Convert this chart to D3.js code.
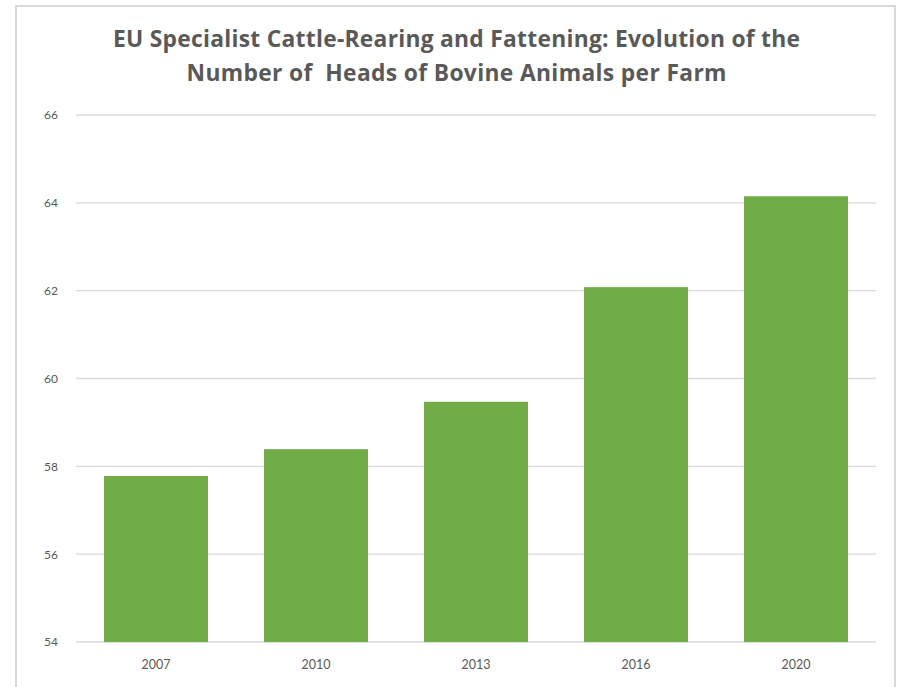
<!DOCTYPE html>
<html>
<head>
<meta charset="utf-8">
<script src="https://cdn.jsdelivr.net/npm/d3@7"></script>
<style>
  html, body { margin: 0; padding: 0; background: #ffffff; }
  svg { display: block; }
</style>
</head>
<body>
<svg id="chart" width="902" height="687"></svg>
<script>
// Average heads of bovine animals per specialist cattle-rearing and fattening farm (EU)
const years = ["2007", "2010", "2013", "2016", "2020"];
const headsPerFarm = [57.78, 58.39, 59.47, 62.08, 64.15];
const yTicks = [54, 56, 58, 60, 62, 64, 66];
const titleLines = [
  "EU Specialist Cattle-Rearing and Fattening: Evolution of the",
  "Number of  Heads of Bovine Animals per Farm"
];

const svg = d3.select("#chart");
const W = 902, H = 687;
const plot = { left: 76, right: 876, top: 115, bottom: 642 };
const textColor = "#595959";
const font = "Lato, 'Open Sans', 'Liberation Sans', sans-serif";
const titleFont = "'Open Sans', Lato, 'Liberation Sans', sans-serif";

// outer frame of the chart area
svg.append("rect")
  .attr("x", 16).attr("y", 6)
  .attr("width", 879).attr("height", H + 10)
  .attr("fill", "none")
  .attr("stroke", "#d9d9d9")
  .attr("stroke-width", 2);

const x = d3.scaleBand()
  .domain(years)
  .range([plot.left, plot.right])
  .paddingInner(0.35)
  .paddingOuter(0.175);

const y = d3.scaleLinear()
  .domain([54, 66])
  .range([plot.bottom, plot.top]);

// horizontal gridlines
svg.append("g")
  .selectAll("line")
  .data(yTicks)
  .join("line")
  .attr("x1", plot.left).attr("x2", plot.right)
  .attr("y1", d => y(d)).attr("y2", d => y(d))
  .attr("stroke", "#d9d9d9")
  .attr("stroke-width", 1.3);

// bars
svg.append("g")
  .selectAll("rect")
  .data(years.map((yr, i) => ({ yr, v: headsPerFarm[i] })))
  .join("rect")
  .attr("x", d => x(d.yr))
  .attr("width", x.bandwidth())
  .attr("y", d => y(d.v))
  .attr("height", d => y(54) - y(d.v))
  .attr("fill", "#70ad47");

// y axis labels
const yAxis = svg.append("g")
  .attr("transform", `translate(${plot.left - 18},0)`)
  .call(d3.axisLeft(y).tickValues(yTicks).tickSize(0).tickPadding(0).tickFormat(d3.format("d")));
yAxis.select(".domain").remove();
yAxis.selectAll("text")
  .attr("fill", textColor)
  .style("font-family", font)
  .style("font-size", "12px");

// x axis labels
const xAxis = svg.append("g")
  .attr("transform", `translate(0,${plot.bottom})`)
  .call(d3.axisBottom(x).tickSize(0).tickPadding(18));
xAxis.select(".domain").remove();
xAxis.selectAll("text")
  .attr("fill", textColor)
  .style("font-family", font)
  .style("font-size", "12.5px");

// title, two centred lines
const titleWidths = [687, 540];
svg.append("g")
  .selectAll("text")
  .data(titleLines)
  .join("text")
  .attr("x", 456.5)
  .attr("y", (d, i) => 47 + i * 34)
  .attr("text-anchor", "middle")
  .attr("fill", textColor)
  .attr("textLength", (d, i) => titleWidths[i])
  .attr("lengthAdjust", "spacing")
  .style("font-family", titleFont)
  .style("font-weight", "bold")
  .style("font-size", "22.8px")
  .style("white-space", "pre")
  .text(d => d);
</script>
</body>
</html>
